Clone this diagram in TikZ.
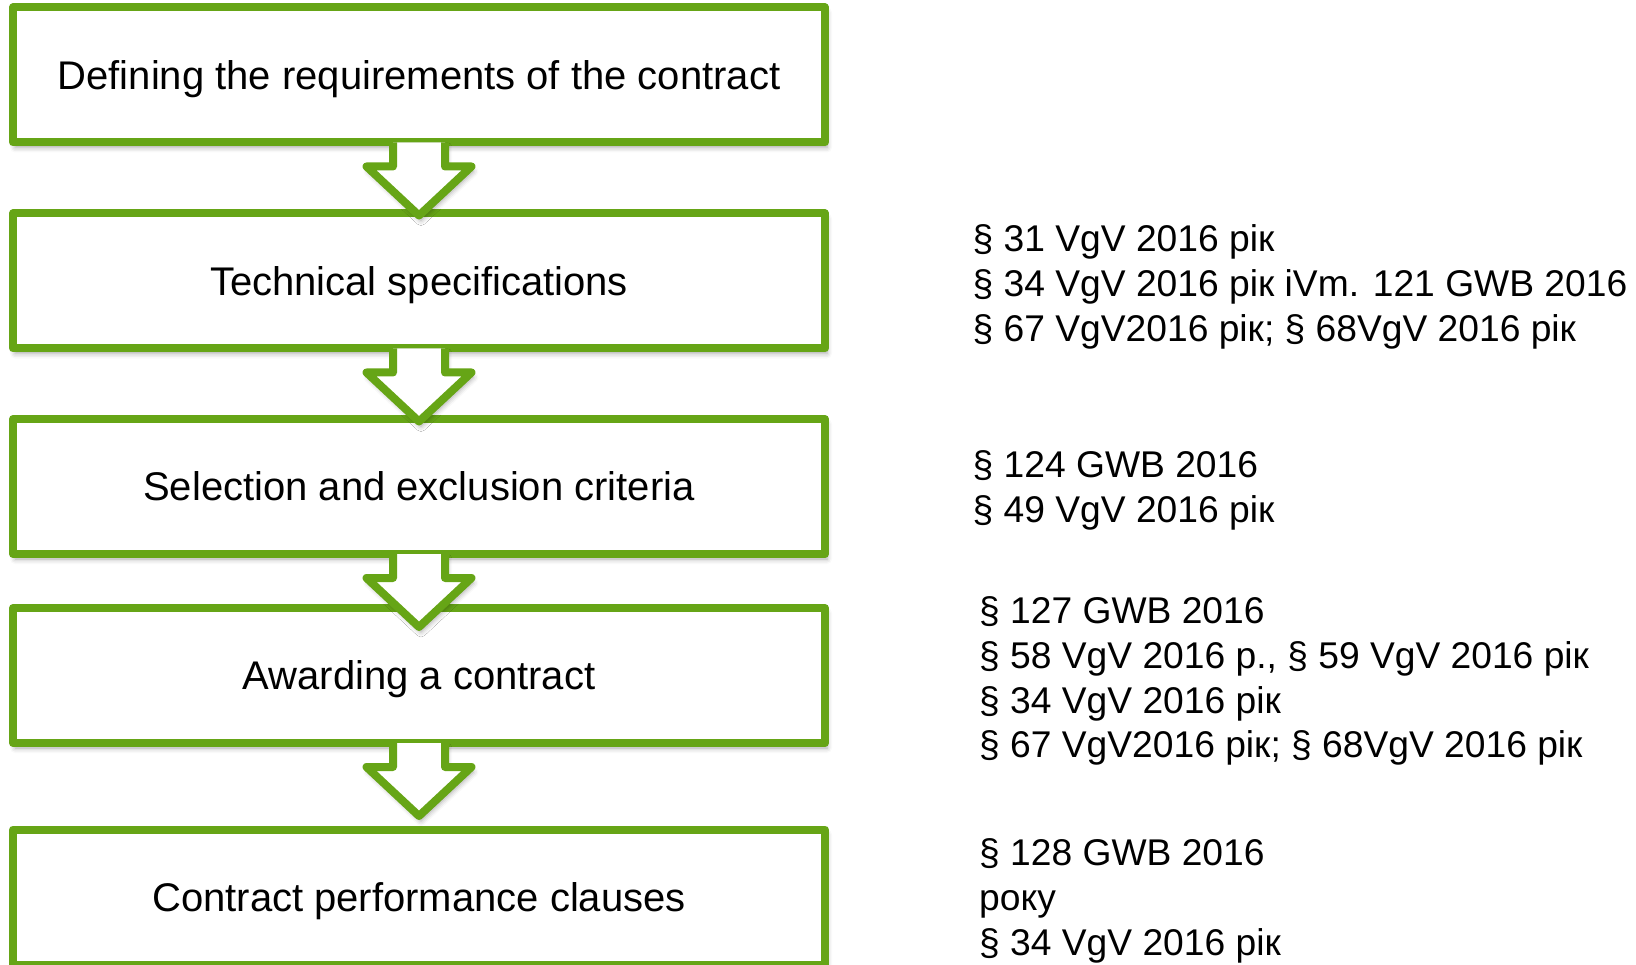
\documentclass[tikz,border=0pt]{standalone}
\usepackage{fontspec}
\setmainfont{Liberation Sans}
\usetikzlibrary{calc,shadows.blur}
\definecolor{grn}{HTML}{66A516}
\tikzset{
  softshadow/.style={blur shadow={shadow xshift=2pt, shadow yshift=-5pt, shadow blur radius=5pt, shadow opacity=35}},
  stage/.style={draw=grn, line width=8pt, fill=white, line join=round,
    minimum width=812pt, minimum height=135pt, inner sep=0pt, text=black,
    text depth=0pt, font=\fontsize{40}{48}\selectfont, softshadow},
  refs/.style={anchor=west, inner sep=0pt, align=left, text=black,
    font=\fontsize{37.2}{44.9}\selectfont},
  flowarrow/.style={draw=grn, line width=8pt, line join=round},
}
\begin{document}
\begin{tikzpicture}[x=1pt, y=-1pt]
\useasboundingbox (0,0) rectangle (1636,965);
\clip (0,0) rectangle (1636,965);
\node[stage] (b1) at (419,75) {Defining the requirements of the contract};
\node[stage] (b2) at (419,281) {Technical specifications};
\node[stage] (b3) at (419,486.5) {Selection and exclusion criteria};
\node[stage] (b4) at (419,675.5) {Awarding a contract};
\node[stage] (b5) at (419,897) {Contract performance clauses};
\foreach \a/\b in {b1/b2,b2/b3,b3/b4,b4/b5}{
  \begin{scope}[shift={(\a.south)}]
    \coordinate (tip-\b) at (0,69);
    \fill[white, softshadow] (-26,-4) -- (-26,20) -- (-52.5,20) -- (tip-\b) -- (52.5,20) -- (26,20) -- (26,-4) -- cycle;
    \draw[flowarrow] (-26,-4) -- (-26,20) -- (-52.5,20) -- (tip-\b) -- (52.5,20) -- (26,20) -- (26,-4);
  \end{scope}
}
\node[refs] (r2) at (972.5,287) {§ 31 VgV 2016 рік\\§ 34 VgV 2016 рік iVm. 121 GWB 2016\\§ 67 VgV2016 рік; § 68VgV 2016 рік};
\node[refs] (r3) at (972.5,490) {§ 124 GWB 2016\\§ 49 VgV 2016 рік};
\node[refs] (r4) at (979,681) {§ 127 GWB 2016\\§ 58 VgV 2016 р., § 59 VgV 2016 рік\\§ 34 VgV 2016 рік\\§ 67 VgV2016 рік; § 68VgV 2016 рік};
\node[refs] (r5) at (979,901) {§ 128 GWB 2016\\року\\§ 34 VgV 2016 рік};
\end{tikzpicture}
\end{document}
